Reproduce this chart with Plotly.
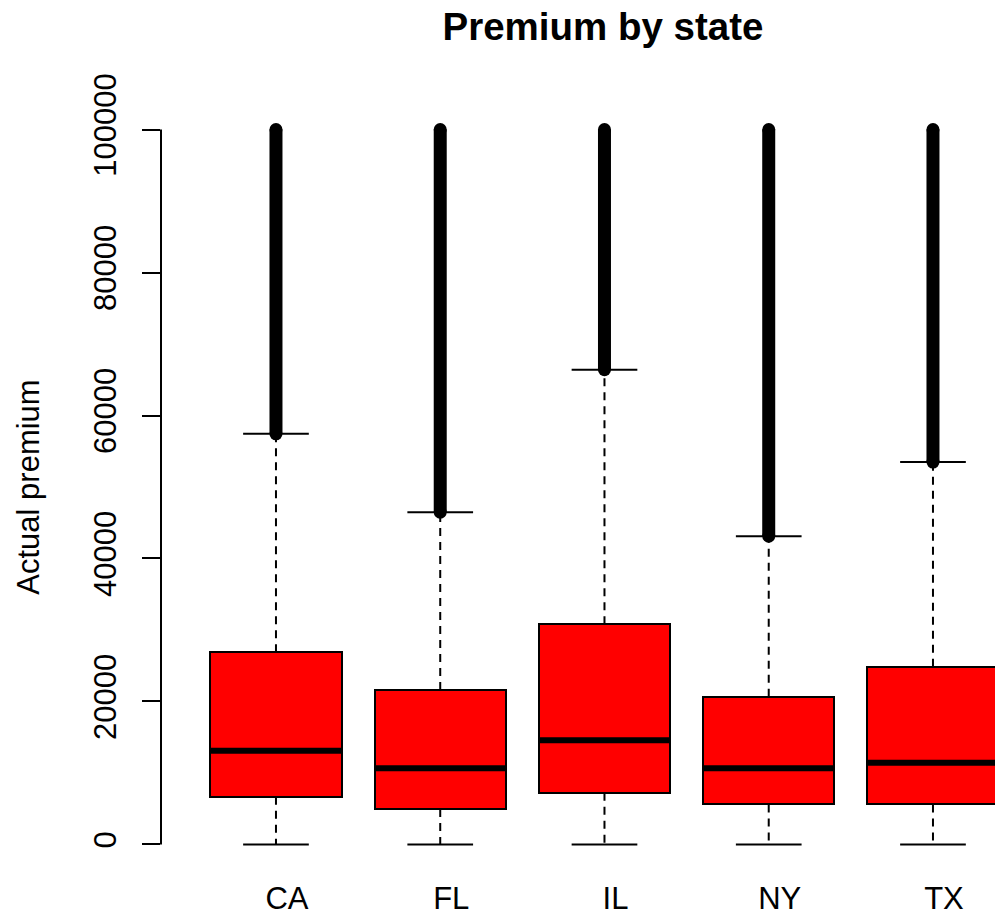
import plotly.graph_objects as go

# Five-number summaries of actual premium per state
states = ["CA", "FL", "IL", "NY", "TX"]
lower_whisker = [0, 0, 0, 0, 0]
q1 = [6660, 4940, 7220, 5600, 5600]
median = [13100, 10640, 14560, 10640, 11420]
q3 = [26880, 21600, 30800, 20660, 24860]
upper_whisker = [57440, 46480, 66400, 43120, 53480]
# Outliers run continuously from just above the upper whisker to the cap
outlier_low = [57440, 46480, 66400, 43120, 53480]
outlier_high = [100000, 100000, 100000, 100000, 100000]

y_ticks = [0, 20000, 40000, 60000, 80000, 100000]

FONT = "Liberation Sans, Arial, sans-serif"
BOX_W = 0.8
STAPLE_W = 0.4

pos = list(range(1, len(states) + 1))


def segments(xs0, xs1, ys0, ys1):
    xs, ys = [], []
    for a, b, c, d in zip(xs0, xs1, ys0, ys1):
        xs += [a, b, None]
        ys += [c, d, None]
    return xs, ys


fig = go.Figure()

# dashed whiskers
wx, wy = segments(pos + pos, pos + pos, q3 + q1, upper_whisker + lower_whisker)
fig.add_trace(go.Scatter(x=wx, y=wy, mode="lines",
                         line=dict(color="black", width=2, dash="8px,6px"),
                         hoverinfo="skip", showlegend=False))

# staples
sx, sy = segments([p - STAPLE_W / 2 for p in pos] * 2,
                  [p + STAPLE_W / 2 for p in pos] * 2,
                  upper_whisker + lower_whisker,
                  upper_whisker + lower_whisker)
fig.add_trace(go.Scatter(x=sx, y=sy, mode="lines",
                         line=dict(color="black", width=2),
                         hoverinfo="skip", showlegend=False))

# boxes
fig.add_trace(go.Bar(x=pos, base=q1, y=[b - a for a, b in zip(q1, q3)],
                     width=BOX_W,
                     marker=dict(color="#ff0000", line=dict(color="black", width=2)),
                     hoverinfo="skip", showlegend=False))

# medians
mx, my = segments([p - BOX_W / 2 for p in pos], [p + BOX_W / 2 for p in pos],
                  median, median)
fig.add_trace(go.Scatter(x=mx, y=my, mode="lines",
                         line=dict(color="black", width=6),
                         hoverinfo="skip", showlegend=False))

# outliers (dense band of points)
ox, oy = segments(pos, pos, outlier_low, outlier_high)
fig.add_trace(go.Scatter(x=ox, y=oy, mode="lines+markers",
                         line=dict(color="black", width=13),
                         marker=dict(color="black", size=13, symbol="circle"),
                         hoverinfo="skip", showlegend=False))

# left axis line spanning the tick range only
fig.add_shape(type="line", xref="paper", yref="y", x0=0, x1=0,
              y0=y_ticks[0], y1=y_ticks[-1],
              line=dict(color="black", width=2))

left, right_px, step = 161, 995, 164.25
x_lo = 0.3
x_hi = x_lo + (right_px - left) / step

fig.update_layout(
    width=995, height=918,
    margin=dict(l=left, r=0, t=101, b=45),
    paper_bgcolor="white", plot_bgcolor="white",
    font=dict(family=FONT, color="black", size=31),
    bargap=0,
    title=dict(text="<b>Premium by state</b>", x=(603 - left) / (right_px - left),
               xref="paper", xanchor="center", y=1 - 27 / 918, yref="container",
               yanchor="middle", font=dict(family=FONT, size=38.5, color="black")),
    xaxis=dict(range=[x_lo, x_hi], tickvals=pos, ticktext=states,
               showline=False, showgrid=False, zeroline=False, ticks="",
               automargin=False, ticklabelstandoff=4, ticklabelshift=11,
               tickfont=dict(size=31)),
    yaxis=dict(range=[-4000, 104000], tickvals=y_ticks,
               ticktext=[str(v) for v in y_ticks], tickangle=-90,
               ticks="outside", ticklen=18, tickwidth=2, tickcolor="black",
               showline=False, showgrid=False, zeroline=False, automargin=False,
               ticklabelstandoff=14, tickfont=dict(size=31),
               title=dict(text="Actual premium", standoff=38,
                          font=dict(size=31))),
)

fig.write_html("out.html")
